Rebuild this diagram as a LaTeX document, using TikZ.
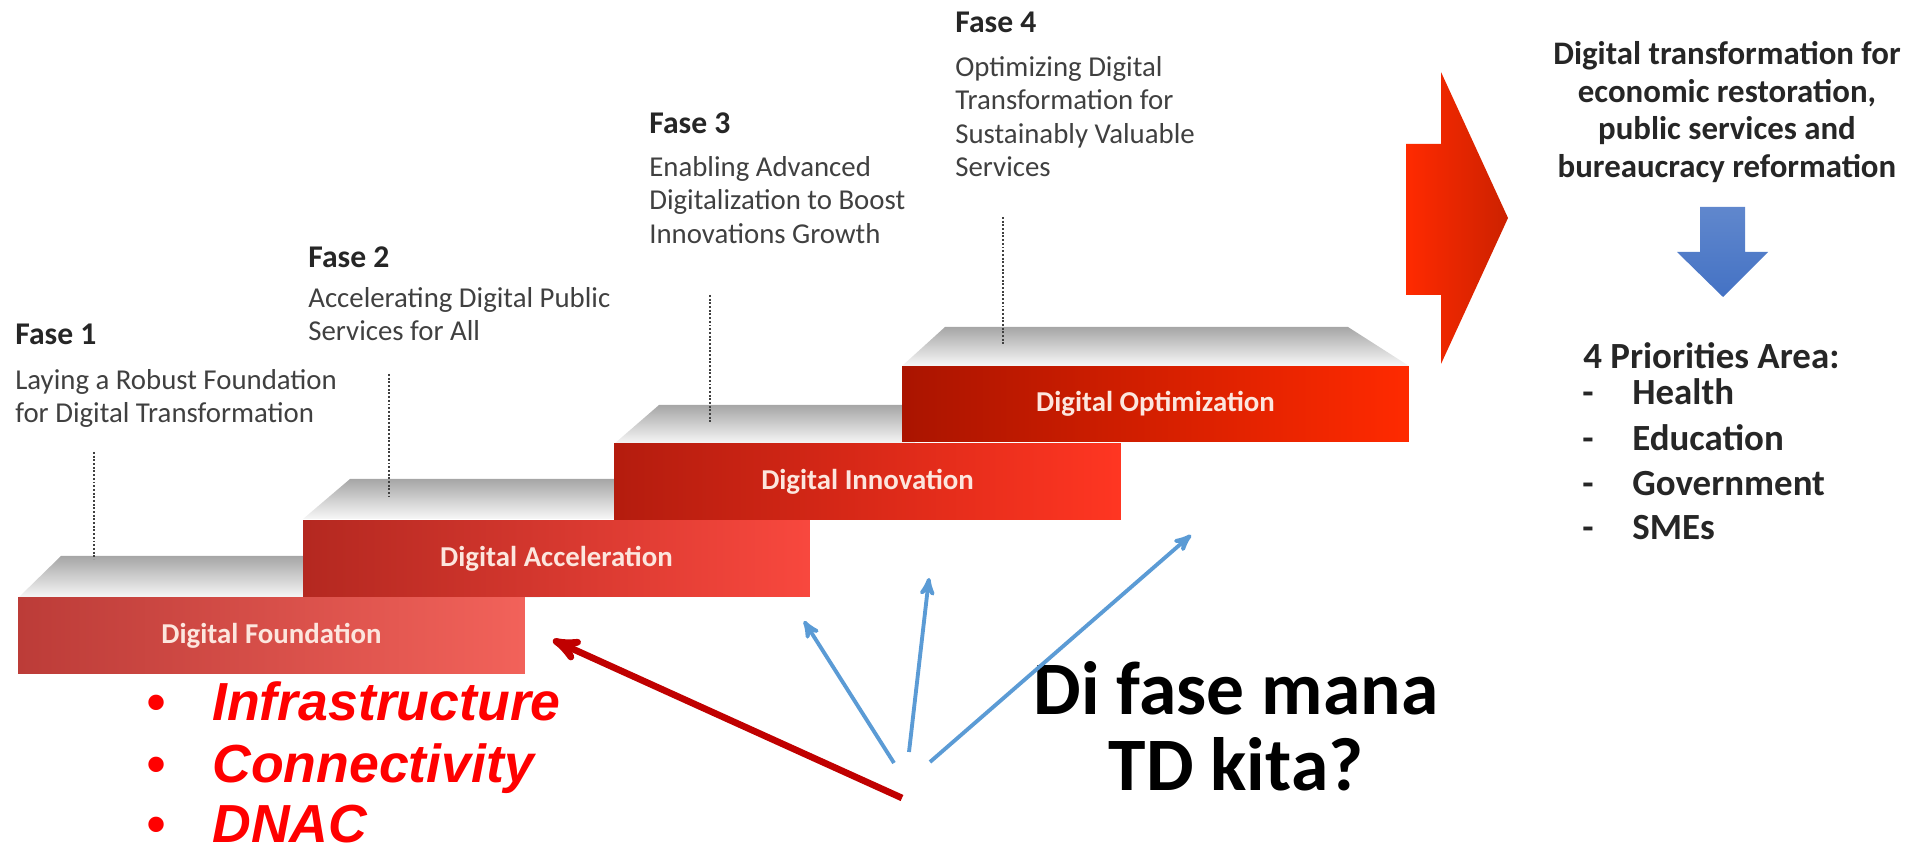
\documentclass[tikz,border=0pt]{standalone}
\usepackage{fontspec}
\setmainfont{Carlito}
\newfontfamily\arialfont{Liberation Sans}
\usetikzlibrary{arrows}

\definecolor{headgray}{HTML}{262626}
\definecolor{bodygray}{HTML}{404040}
\definecolor{labelpink}{HTML}{FCE6DE}
\definecolor{bigred}{HTML}{FF2A00}
\definecolor{arrowred}{HTML}{C00000}
\definecolor{arrowblue}{HTML}{5B9BD5}
\definecolor{downblue}{HTML}{4472C4}
\definecolor{bulletred}{HTML}{FF0000}
\definecolor{foundL}{HTML}{BC3C38}
\definecolor{foundR}{HTML}{F2625A}
\definecolor{accelL}{HTML}{B42820}
\definecolor{accelR}{HTML}{F8483E}
\definecolor{innovL}{HTML}{B41C0E}
\definecolor{innovR}{HTML}{FF3622}
\definecolor{optimL}{HTML}{AA1400}
\definecolor{optimR}{HTML}{FF2A00}

\begin{document}
\begin{tikzpicture}
        [x=0.02cm, y=-0.02cm,
        fasehead/.style={anchor=west, inner sep=0, text=headgray,
           font=\fontsize{18}{21}\selectfont\bfseries},
        fasetext/.style={anchor=north west, inner sep=0, align=left, text=bodygray,
           font=\fontsize{16.4}{19}\selectfont},
        front/.style={minimum width=10.14cm, minimum height=1.52cm, inner sep=0,
           text=labelpink, font=\fontsize{16.4}{19}\selectfont\bfseries},
        stairtop/.style={top color=black!35, bottom color=black!3},
        dotline/.style={densely dotted, line width=1.1pt, black!75},
        bluearr/.style={->, >=stealth', line width=2.2pt, arrowblue},
        redarr/.style={->, >=stealth', line width=3.8pt, arrowred},
        goal/.style={inner sep=0, align=center, text=headgray,
           font=\fontsize{18.7}{21.5}\selectfont\bfseries},
        prio/.style={anchor=base west, inner sep=0, text=headgray,
           font=\fontsize{21}{25}\selectfont\bfseries},
        item/.style={anchor=base west, inner sep=0, text=bulletred,
           font=\arialfont\fontsize{30.5}{35}\selectfont\bfseries\itshape},
        question/.style={anchor=base, inner sep=0, text=black,
           font=\fontsize{43}{48}\selectfont\bfseries}]
        \useasboundingbox (0,0) rectangle (1925,854);

        % stair tops
        \shade[stairtop] (18,598) -- (61,556) -- (540,556) -- (540,598) -- cycle;
        \shade[stairtop] (303,519) -- (350,479) -- (625,479) -- (625,519) -- cycle;
        \shade[stairtop] (614,444) -- (659,405) -- (915,405) -- (915,444) -- cycle;
        \shade[stairtop] (902,366) -- (945,327) -- (1348,327) -- (1409,366) -- cycle;

        % stair fronts
        \node (found) at (271.5,635.5) [front, left color=foundL, right color=foundR] {Digital Foundation};
        \node (accel) at (556.5,558.5) [front, left color=accelL, right color=accelR] {Digital Acceleration};
        \node (innov) at (867.5,481.5) [front, left color=innovL, right color=innovR] {Digital Innovation};
        \node (optim) at (1155.5,404) [front, left color=optimL, right color=optimR] {Digital Optimization};

        % leader lines
        \foreach \x/\ya/\yb in {94/452/559, 389/374/497, 710/295/424, 1003/217/344}
           \draw[dotline] (\x,\ya) -- (\x,\yb);

        % phase texts
        \node (f1) at (15,334) [fasehead] {Fase 1};
        \node (t1) at (15,369) [fasetext] {Laying a Robust Foundation\\for Digital Transformation};
        \node (f2) at (308,257) [fasehead] {Fase 2};
        \node (t2) at (308,287) [fasetext] {Accelerating Digital Public\\Services for All};
        \node (f3) at (649,123) [fasehead] {Fase 3};
        \node (t3) at (649,156) [fasetext] {Enabling Advanced\\Digitalization to Boost\\Innovations Growth};
        \node (f4) at (955,22) [fasehead] {Fase 4};
        \node (t4) at (955,56) [fasetext] {Optimizing Digital\\Transformation for\\Sustainably Valuable\\Services};

        % big arrow and goal
        \shade[left color=bigred, right color=bigred!80!black]
           (1406,144) -- (1441,144) -- (1441,72) -- (1508,218) -- (1441,364) -- (1441,295) -- (1406,295) -- cycle;
        \node (goal) at (1727,41) [goal, anchor=north] {Digital transformation for\\economic restoration,\\public services and\\bureaucracy reformation};
        \shade[top color=downblue!85!white, bottom color=downblue]
           (1700,207) -- (1745,207) -- (1745,252) -- (1768,252) -- (1723,297) -- (1677,252) -- (1700,252) -- cycle;
        \node (prio) at (1583,369) [prio] {4 Priorities Area:};
        \node (d1) at (1582,405) [prio] {-};
        \node (p1) at (1632,405) [prio] {Health};
        \node (d2) at (1582,451) [prio] {-};
        \node (p2) at (1632,451) [prio] {Education};
        \node (d3) at (1582,496) [prio] {-};
        \node (p3) at (1632,496) [prio] {Government};
        \node (d4) at (1582,540) [prio] {-};
        \node (p4) at (1632,540) [prio] {SMEs};

        % foundation items
        \node (b1) at (146,721) [item] {•};
        \node (i1) at (212,721) [item] {Infrastructure};
        \node (b2) at (146,783) [item] {•};
        \node (i2) at (212,783) [item] {Connectivity};
        \node (b3) at (146,843) [item] {•};
        \node (i3) at (212,843) [item] {DNAC};

        % question
        \node (qa) at (1236,715) [question] {Di fase mana};
        \node (qb) at (1236,790) [question] {TD kita?};

        % pointers
        \coordinate (rs) at (902,798);
        \coordinate (rt) at (553,640);
        \coordinate (as) at (894,763);
        \coordinate (at) at (804,621);
        \coordinate (bs) at (909,752);
        \coordinate (bt) at (929,578);
        \coordinate (cs) at (930,762);
        \coordinate (ct) at (1191,535);
        \draw[redarr] (rs) -- (rt);
        \draw[bluearr] (as) -- (at);
        \draw[bluearr] (bs) -- (bt);
        \draw[bluearr] (cs) -- (ct);
     \end{tikzpicture}
\end{document}
